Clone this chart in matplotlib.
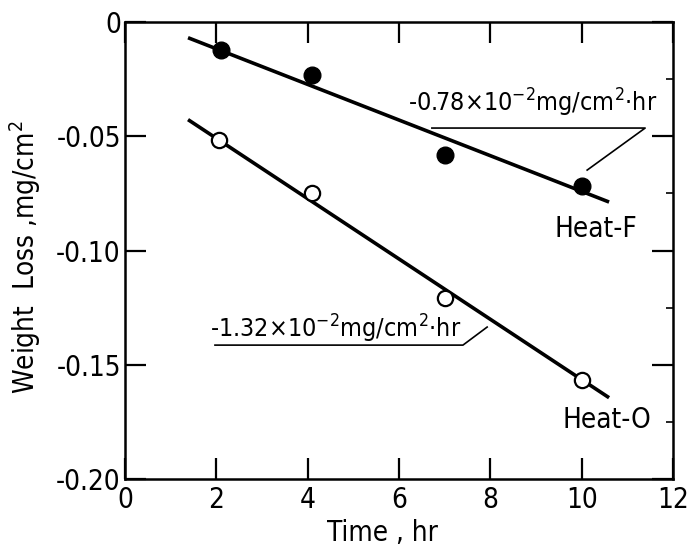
import numpy as np
import matplotlib
matplotlib.use("Agg")
import matplotlib.pyplot as plt
from matplotlib.ticker import MultipleLocator

plt.rcParams['font.family'] = ['DejaVu Sans']
plt.rcParams['font.stretch'] = 'condensed'
plt.rcParams['mathtext.fontset'] = 'custom'
plt.rcParams['mathtext.rm'] = 'DejaVu Sans:stretch=condensed'
plt.rcParams['mathtext.it'] = 'DejaVu Sans:stretch=condensed'

# measured weight loss vs exposure time
time_f = [2.1, 4.1, 7.0, 10.0]
loss_f = [-0.0123, -0.0232, -0.0582, -0.0718]
time_o = [2.05, 4.1, 7.0, 10.0]
loss_o = [-0.0516, -0.0747, -0.1208, -0.1567]

# fitted rates (mg/cm2 per hr) and intercepts
rate_f = -0.78e-2
rate_o = -1.32e-2
icpt_f = 0.0039
icpt_o = -0.0245
fit_range = [1.38, 10.6]

x_ticks = [0, 2, 4, 6, 8, 10, 12]
y_ticks = [-0.20, -0.15, -0.10, -0.05, 0]
y_ticklabels = ['-0.20', '-0.15', '-0.10', '-0.05', '0']

fig = plt.figure(figsize=(6.98, 5.48), dpi=100)
ax = fig.add_axes([0.1791, 0.1259, 0.7851, 0.8339])

xf = np.array(fit_range)
ax.plot(xf, icpt_f + rate_f * xf, color='black', lw=2.6, solid_capstyle='butt', zorder=2)
ax.plot(xf, icpt_o + rate_o * xf, color='black', lw=2.6, solid_capstyle='butt', zorder=2)

ax.plot(time_f, loss_f, 'o', ms=12, mfc='black', mec='black', zorder=3)
ax.plot(time_o, loss_o, 'o', ms=11, mfc='white', mec='black', mew=1.6, zorder=3)

# rate labels with underline leaders
ax.text(6.2, -0.0394, r'-0.78×10$^{-2}$mg/cm$^{2}$·hr', fontsize=18,
        ha='left', va='baseline')
ax.plot([6.72, 11.39, 10.12], [-0.0464, -0.0464, -0.0648], color='black', lw=1.2)

ax.text(1.86, -0.1379, r'-1.32×10$^{-2}$mg/cm$^{2}$·hr', fontsize=18,
        ha='left', va='baseline')
ax.plot([1.97, 7.40, 7.93], [-0.1414, -0.1414, -0.1335], color='black', lw=1.2)

ax.text(10.31, -0.0905, 'Heat-F', fontsize=20, ha='center', va='center')
ax.text(10.55, -0.1740, 'Heat-O', fontsize=20, ha='center', va='center')

ax.set_xlim(0, 12)
ax.set_ylim(-0.20, 0)
ax.set_xticks(x_ticks)
ax.set_yticks(y_ticks)
ax.set_yticklabels(y_ticklabels)
ax.yaxis.set_minor_locator(MultipleLocator(0.025))

ax.tick_params(which='major', direction='in', length=15, width=1.6,
               top=True, right=True, labelsize=20)
ax.tick_params(axis='x', pad=5)
ax.tick_params(axis='y', pad=3)
ax.tick_params(which='minor', direction='in', length=5, width=1.2,
               left=False, right=True)
ax.tick_params(axis='x', which='minor', bottom=False, top=False)

for s in ax.spines.values():
    s.set_linewidth(1.8)

ax.set_xlabel('Time , hr', fontsize=20)
ax.xaxis.set_label_coords(0.469, -0.119)
ax.xaxis.label.set_va('center')
ax.set_ylabel('Weight  Loss ,mg/cm$^{2}$', fontsize=20)
ax.yaxis.set_label_coords(-0.183, 0.486)
ax.yaxis.label.set_va('center')

fig.savefig('out.png', dpi=100)
